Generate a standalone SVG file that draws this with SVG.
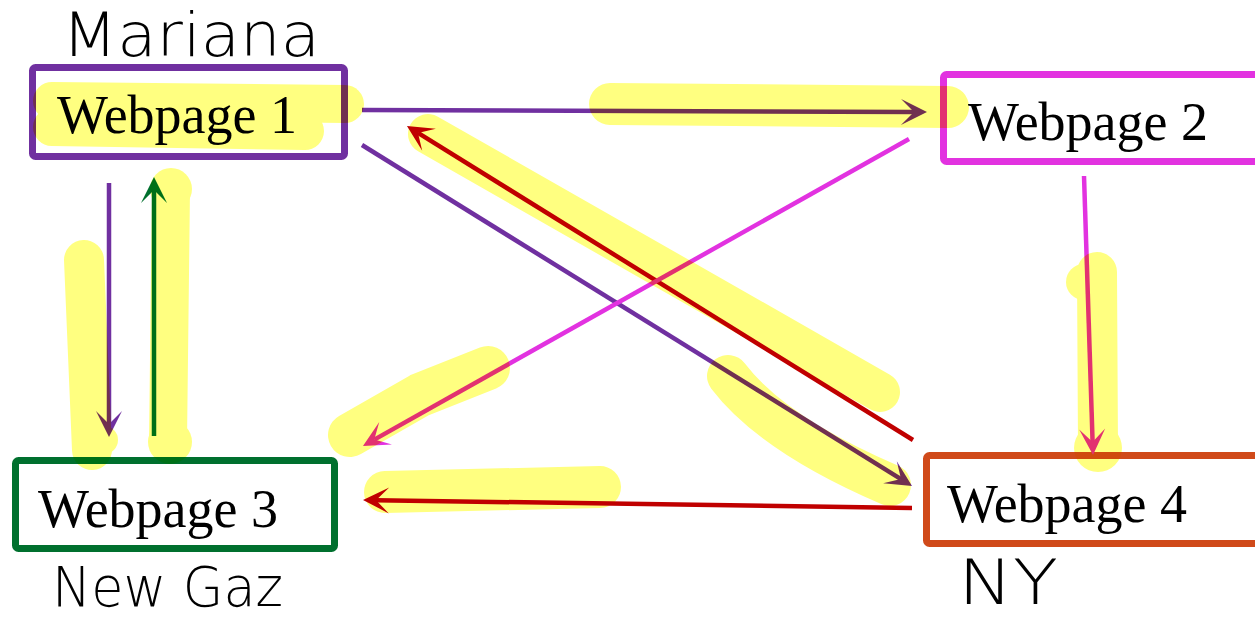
<svg xmlns="http://www.w3.org/2000/svg" width="1255" height="624" viewBox="0 0 1255 624">
<style>
.box{fill:none;stroke-width:7;}
.lbl{font-family:"Liberation Serif","Times New Roman",serif;font-size:54px;fill:#000;}
.hand{font-family:"DejaVu Sans","Liberation Sans",sans-serif;font-weight:200;fill:#000;}
.c{fill:none;stroke-width:4.5;stroke-linecap:butt;}
.hl{fill:none;stroke:#ffff80;stroke-linecap:round;stroke-linejoin:round;}
.hlf{fill:#ffff80;}
.hlg{mix-blend-mode:multiply;}
</style>
<defs>
<marker id="aP" markerUnits="userSpaceOnUse" markerWidth="40" markerHeight="40" viewBox="-20 -20 40 40" refX="0" refY="0" orient="auto" overflow="visible"><path d="M13,0 L-13,-13 L0,0 L-13,13 Z" fill="#7030a0"/></marker>
<marker id="aR" markerUnits="userSpaceOnUse" markerWidth="40" markerHeight="40" viewBox="-20 -20 40 40" refX="0" refY="0" orient="auto" overflow="visible"><path d="M13,0 L-13,-13 L0,0 L-13,13 Z" fill="#c00000"/></marker>
<marker id="aK" markerUnits="userSpaceOnUse" markerWidth="40" markerHeight="40" viewBox="-20 -20 40 40" refX="0" refY="0" orient="auto" overflow="visible"><path d="M13,0 L-13,-13 L0,0 L-13,13 Z" fill="#e232e0"/></marker>
<marker id="aG" markerUnits="userSpaceOnUse" markerWidth="40" markerHeight="40" viewBox="-20 -20 40 40" refX="0" refY="0" orient="auto" overflow="visible"><path d="M13,0 L-13,-13 L0,0 L-13,13 Z" fill="#00702e"/></marker>
</defs>
<rect x="0" y="0" width="1255" height="624" fill="#ffffff"/>

<g id="node1">
<rect class="box" x="32.5" y="67.5" width="312" height="89" rx="3" stroke="#7030a0"/>
<text class="lbl" x="57" y="133">Webpage 1</text>
<text class="hand" x="62" y="56" font-size="60" textLength="258" lengthAdjust="spacingAndGlyphs">Mariana</text>
</g>
<g id="node2">
<rect class="box" x="943.5" y="74.5" width="330" height="87" rx="3" stroke="#e232e0"/>
<text class="lbl" x="968" y="140">Webpage 2</text>
</g>
<g id="node3">
<rect class="box" x="15.5" y="460.5" width="319" height="88" rx="3" stroke="#00702e"/>
<text class="lbl" x="38" y="527">Webpage 3</text>
<text class="hand" x="52" y="606" font-size="56" textLength="231" lengthAdjust="spacingAndGlyphs">New Gaz</text>
</g>
<g id="node4">
<rect class="box" x="926.5" y="455.5" width="340" height="88" rx="3" stroke="#d04a1a"/>
<text class="lbl" x="947" y="522">Webpage 4</text>
<text class="hand" x="958" y="604" font-size="62" textLength="100" lengthAdjust="spacingAndGlyphs">NY</text>
</g>

<g id="connectors">
<line class="c" x1="362" y1="110" x2="914" y2="112" stroke="#7030a0" marker-end="url(#aP)"/>
<line class="c" x1="362" y1="145" x2="901" y2="479.1" stroke="#7030a0" marker-end="url(#aP)"/>
<line class="c" x1="913" y1="440" x2="418" y2="132.9" stroke="#c00000" marker-end="url(#aR)"/>
<line class="c" x1="909" y1="139" x2="374.3" y2="439.6" stroke="#e232e0" marker-end="url(#aK)"/>
<line class="c" x1="912" y1="508" x2="376" y2="500.2" stroke="#c00000" marker-end="url(#aR)"/>
<line class="c" x1="109" y1="183" x2="109" y2="424" stroke="#7030a0" marker-end="url(#aP)"/>
<line class="c" x1="154" y1="436" x2="154" y2="190" stroke="#00702e" marker-end="url(#aG)"/>
<line class="c" x1="1084" y1="176" x2="1092.6" y2="442" stroke="#e232e0" marker-end="url(#aK)"/>
</g>

<g id="highlights" class="hlg">
<path class="hl" stroke-width="38" d="M52,101 L345,104"/>
<path class="hl" stroke-width="38" d="M52,127 L305,131"/>
<path class="hl" stroke-width="42" d="M610,104 L948,107"/>
<path class="hl" stroke-width="40" d="M428,134 L880,392"/>
<path class="hl" stroke-width="44" d="M350,435 L420,395 L488,368"/>
<path class="hl" stroke-width="42" d="M385,492 L600,487"/>
<path class="hl" stroke-width="42" d="M728,376 C760,418 820,455 890,485"/>
<path class="hl" stroke-width="40" d="M84,260 L92,450"/>
<circle class="hlf" cx="104" cy="440" r="14"/>
<path class="hl" stroke-width="38" d="M171,190 L168,442"/>
<circle class="hlf" cx="171" cy="189" r="21"/>
<circle class="hlf" cx="170" cy="442" r="22"/>
<path class="hl" stroke-width="40" d="M1097,272 L1098,448"/>
<circle class="hlf" cx="1084" cy="282" r="18"/>
<circle class="hlf" cx="1098" cy="448" r="24"/>
</g>
</svg>
